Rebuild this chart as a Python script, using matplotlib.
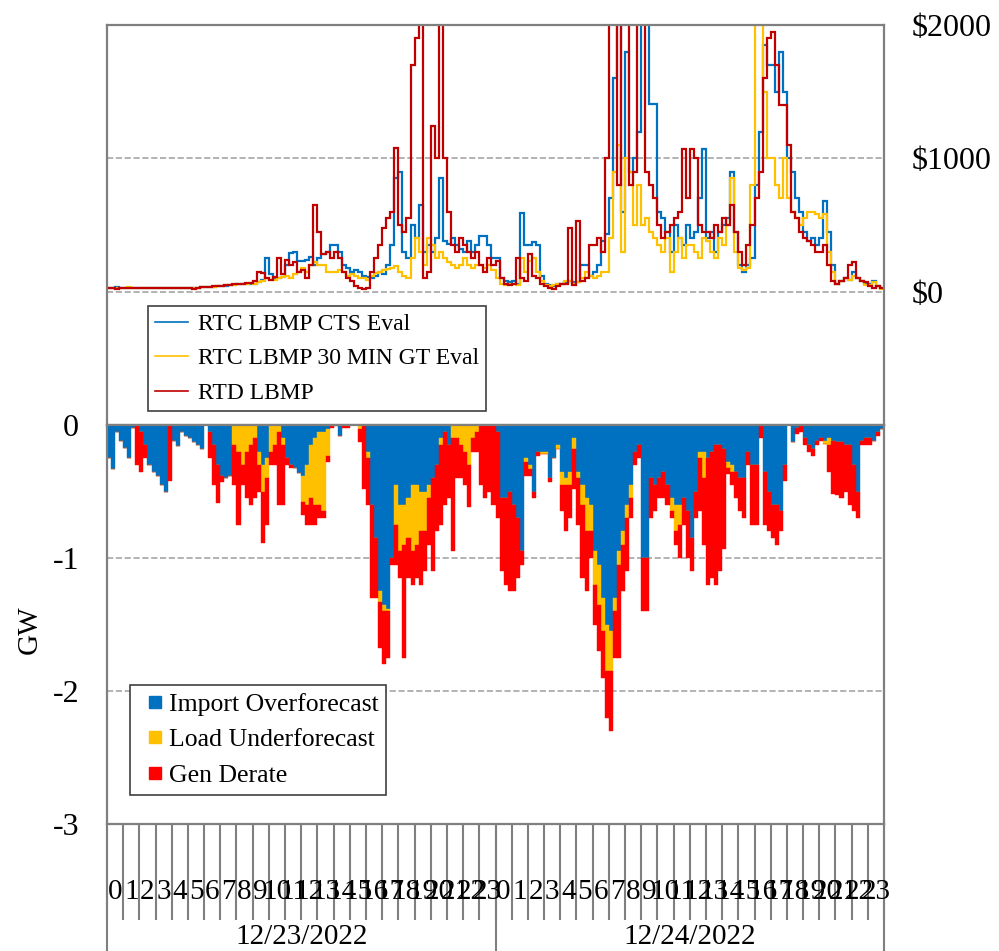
import matplotlib.pyplot as plt
from matplotlib.lines import Line2D
import numpy as np

plt.rcParams['font.family'] = ['Liberation Serif', 'DejaVu Serif']
plt.rcParams['axes.unicode_minus'] = False

dates = ['12/23/2022', '12/24/2022']
hour_labels = [str(h) for h in range(24)]

# 15-minute values, 4 per hour, 12/23 00:00 -> 12/24 23:45  ($/MWh)
rtc_cts = [
    30, 28, 32, 30, 30, 30, 28, 30, 28, 30, 30, 30, 30, 30, 30, 30,
    30, 30, 30, 30, 30, 25, 30, 32, 35, 35, 38, 40, 45, 45, 50, 50,
    55, 58, 60, 60, 60, 70, 90, 250, 130, 100, 100, 110, 200, 290, 300, 230,
    230, 240, 260, 200, 250, 280, 300, 350, 350, 300, 200, 180, 150, 160, 150, 120,
    110, 100, 120, 150, 130, 200, 350, 850, 900, 300, 250, 500, 400, 650, 300, 350,
    300, 400, 850, 380, 360, 400, 350, 320, 300, 380, 300, 350, 420, 420, 350, 250,
    250, 100, 80, 70, 80, 60, 590, 350, 350, 370, 350, 120, 60, 50, 40, 60,
    60, 70, 80, 70, 70, 200, 200, 120, 150, 200, 380, 430, 700, 1600, 2600, 600,
    1800, 900, 1000, 1200, 2600, 2600, 1410, 1410, 600, 550, 450, 300, 500, 400, 350, 500,
    400, 450, 700, 1070, 400, 450, 300, 450, 500, 550, 900, 450, 200, 150, 200, 250,
    800, 1200, 1850, 1700, 1700, 1500, 1800, 1500, 1000, 900, 700, 600, 450, 380, 400, 350,
    400, 680, 450, 200, 60, 80, 100, 90, 150, 100, 80, 60, 60, 80, 40, 30,
]
rtc_gt = [
    28, 30, 30, 28, 30, 32, 30, 30, 30, 30, 28, 30, 30, 30, 30, 30,
    30, 30, 30, 30, 30, 28, 30, 32, 35, 36, 38, 40, 45, 48, 50, 52,
    55, 58, 60, 62, 60, 70, 80, 100, 90, 90, 100, 110, 120, 100, 130, 150,
    180, 150, 200, 220, 200, 200, 150, 150, 150, 160, 150, 120, 130, 120, 100, 100,
    90, 120, 140, 150, 160, 170, 180, 190, 150, 120, 100, 250, 400, 300, 200, 400,
    350, 250, 300, 250, 220, 200, 180, 200, 250, 200, 180, 200, 200, 180, 200, 160,
    100, 60, 50, 60, 60, 50, 250, 150, 230, 250, 150, 80, 50, 40, 50, 60,
    60, 80, 80, 60, 70, 100, 150, 120, 100, 120, 150, 150, 400, 900, 1100, 300,
    1000, 900, 500, 800, 500, 550, 450, 400, 350, 300, 400, 150, 300, 400, 250, 350,
    350, 300, 250, 400, 380, 300, 250, 400, 350, 500, 850, 300, 180, 160, 180, 800,
    2600, 2600, 1500, 1000, 1000, 800, 700, 1000, 700, 600, 550, 500, 550, 600, 600, 580,
    550, 580, 300, 150, 60, 80, 100, 90, 120, 100, 80, 50, 50, 70, 40, 20,
]
rtd = [
    25, 30, 22, 28, 30, 25, 30, 28, 28, 30, 30, 28, 30, 30, 30, 30,
    30, 30, 30, 30, 30, 20, 28, 32, 35, 38, 40, 42, 45, 48, 52, 55,
    58, 60, 62, 65, 80, 150, 140, 100, 90, 110, 250, 130, 240, 200, 220, 150,
    160, 100, 200, 650, 450, 280, 300, 250, 300, 250, 150, 100, 80, 40, 30, 20,
    30, 150, 250, 350, 480, 550, 600, 1080, 500, 450, 550, 1700, 1900, 2600, 100, 150,
    1240, 1000, 2600, 1000, 600, 350, 300, 400, 350, 300, 250, 300, 200, 150, 250, 200,
    230, 100, 60, 50, 60, 250, 100, 80, 280, 120, 100, 60, 40, 30, 20, 40,
    60, 60, 480, 50, 530, 80, 100, 350, 350, 400, 300, 1000, 2600, 2600, 800, 2600,
    2600, 800, 900, 2600, 2600, 900, 800, 700, 500, 400, 450, 500, 550, 600, 1070, 700,
    1070, 1000, 500, 450, 450, 400, 500, 450, 550, 500, 650, 450, 300, 200, 350, 500,
    700, 900, 1600, 1900, 1950, 1700, 1400, 1400, 1100, 600, 550, 450, 400, 380, 350, 300,
    300, 350, 200, 80, 60, 80, 100, 200, 220, 100, 80, 70, 40, 30, 40, 30,
]

# 15-minute shortfall components (GW)
imp_over = [
    -0.25, -0.33, -0.05, -0.12, -0.17, -0.25, -0.02, 0, -0.05, -0.15, -0.3, -0.35, -0.38, -0.45, -0.5, 0,
    -0.12, -0.16, -0.05, -0.08, -0.1, -0.13, -0.15, -0.18, 0, -0.05, -0.15, -0.3, -0.38, -0.4, -0.38, 0,
    0, 0, 0, 0, 0, -0.2, -0.3, -0.25, 0, 0, 0, -0.1, -0.25, -0.3, -0.32, -0.36,
    -0.38, -0.3, -0.15, -0.1, -0.05, -0.05, -0.03, 0, 0, -0.08, 0, 0, 0, 0, 0, 0,
    -0.2, -0.6, -0.85, -1.25, -1.35, -1.38, -1.0, -0.45, -0.6, -0.6, -0.55, -0.45, -0.45, -0.5, -0.5, -0.45,
    -0.4, -0.3, -0.1, -0.05, -0.15, 0, 0, 0, 0, 0, 0, 0, 0, 0, 0, 0,
    -0.05, -0.55, -0.55, -0.5, -0.6, -0.7, -0.95, -0.25, -0.3, -0.5, -0.2, -0.2, -0.2, -0.4, -0.25, -0.15,
    -0.35, -0.4, -0.35, -0.1, -0.35, -0.45, -0.55, -0.6, -0.95, -1.05, -1.3, -1.5, -1.55, -1.3, -0.95, -0.8,
    -0.6, -0.45, -0.2, -0.15, -1.0, -1.0, -0.4, -0.45, -0.4, -0.35, -0.45, -0.55, -0.6, -0.6, -0.55, -0.65,
    -0.85, -0.5, -0.2, -0.2, -0.25, -0.2, -0.15, -0.15, -0.18, -0.28, -0.3, -0.35, -0.4, -0.4, -0.2, -0.3,
    -0.3, 0, -0.35, -0.5, -0.6, -0.6, -0.65, -0.3, 0, -0.13, -0.02, 0, -0.1, -0.15, -0.18, -0.12,
    -0.1, -0.12, -0.1, -0.12, -0.13, -0.13, -0.15, -0.15, -0.3, -0.5, -0.12, -0.1, -0.1, -0.12, -0.05, -0.03,
]
load_under = [
    0, 0, 0, 0, 0, 0, 0, 0, 0, 0, 0, 0, 0, 0, 0, 0,
    0, 0, 0, 0, 0, 0, 0, 0, 0, 0, 0, 0, 0, 0, 0, -0.15,
    -0.2, -0.3, -0.2, -0.15, -0.1, -0.1, -0.2, -0.15, -0.2, -0.15, -0.05, -0.05, 0, 0, 0, 0,
    -0.2, -0.3, -0.4, -0.5, -0.55, -0.6, -0.2, 0, 0, 0, 0, 0, 0, 0, -0.03, 0,
    -0.05, 0, 0, -0.08, -0.05, -0.02, 0, -0.3, -0.35, -0.3, -0.3, -0.5, -0.45, -0.3, -0.3, -0.1,
    0, 0, -0.05, 0, 0, -0.1, -0.1, -0.15, -0.2, -0.3, -0.1, -0.05, 0, 0, 0, 0,
    0, 0, 0, 0, 0, 0, 0, -0.03, -0.03, 0, 0, -0.02, -0.02, 0, 0, -0.03,
    -0.1, -0.05, -0.1, -0.08, -0.05, -0.15, -0.25, -0.2, -0.25, -0.3, -0.25, -0.35, -0.3, -0.1, -0.1, -0.1,
    -0.1, -0.1, 0, 0, 0, 0, 0, 0, 0, 0, 0, -0.1, -0.2, -0.15, 0, 0,
    0, 0, -0.05, -0.2, 0, 0, 0, 0, 0, -0.04, -0.05, 0, 0, 0, 0, 0,
    0, 0, 0, 0, 0, 0, 0, 0, 0, 0, 0, 0, 0, 0, 0, 0,
    0, -0.02, -0.05, 0, 0, 0, 0, 0, 0, 0, 0, 0, 0, 0, 0, 0,
]
gen_derate = [
    0, 0, 0, 0, 0, 0, 0, -0.3, -0.3, -0.1, 0, 0, 0, 0, 0, -0.42,
    0, 0, 0, 0, 0, 0, 0, 0, 0, -0.2, -0.3, -0.29, -0.05, 0, 0, -0.3,
    -0.55, -0.15, -0.35, -0.45, -0.45, -0.2, -0.39, -0.35, -0.1, -0.15, -0.55, -0.45, -0.05, -0.02, 0, 0,
    -0.1, -0.15, -0.2, -0.15, -0.1, -0.05, -0.05, -0.02, -0.01, 0, -0.02, -0.02, 0, 0, -0.1, -0.48,
    -0.35, -0.7, -0.45, -0.35, -0.4, -0.35, -0.05, -0.3, -0.2, -0.85, -0.3, -0.25, -0.25, -0.4, -0.3, -0.35,
    -0.7, -0.5, -0.6, -0.55, -0.4, -0.85, -0.3, -0.25, -0.25, -0.32, -0.1, -0.15, -0.45, -0.55, -0.5, -0.6,
    -0.65, -0.55, -0.65, -0.75, -0.65, -0.45, -0.1, -0.1, -0.05, -0.05, -0.03, 0, 0, -0.03, 0, 0,
    -0.2, -0.35, -0.25, -0.3, -0.35, -0.55, -0.45, -0.2, -0.3, -0.35, -0.35, -0.35, -0.45, -0.35, -0.7, -0.35,
    -0.4, -0.15, -0.1, -0.1, -0.4, -0.4, -0.3, -0.2, -0.15, -0.2, -0.15, -0.05, -0.1, -0.25, -0.2, -0.35,
    -0.25, -0.2, -0.4, -0.5, -0.95, -0.95, -1.05, -0.95, -0.75, -0.05, -0.1, -0.2, -0.25, -0.3, -0.1, -0.45,
    -0.45, -0.1, -0.4, -0.3, -0.25, -0.3, -0.15, -0.12, 0, 0, -0.05, -0.05, -0.05, -0.05, -0.05, -0.03,
    -0.02, 0, -0.2, -0.4, -0.4, -0.42, -0.35, -0.45, -0.35, -0.2, -0.03, -0.05, -0.05, 0, -0.03, 0,
]

blue, yellow, red, bright_red = '#0070C0', '#FFC000', '#C00000', '#FF0000'
frame = '#7F7F7F'
grid = '#A6A6A6'

n = len(rtd)
edges = np.arange(n + 1) * 0.25
centers = edges[:-1] + 0.125
imp = np.array(imp_over)
load = np.array(load_under)
gen = np.array(gen_derate)

fig = plt.figure(figsize=(9.99, 9.51), dpi=100)
ax1 = fig.add_axes([0.1071, 0.5531, 0.7778, 0.4206])
ax2 = fig.add_axes([0.1071, 0.1335, 0.7778, 0.4196])

# price panel
ax1.stairs(rtc_cts, edges, color=blue, lw=1.6, label='RTC LBMP CTS Eval', baseline=None)
ax1.stairs(rtc_gt, edges, color=yellow, lw=1.6, label='RTC LBMP 30 MIN GT Eval', baseline=None)
ax1.stairs(rtd, edges, color=red, lw=1.6, label='RTD LBMP', baseline=None)
ax1.set_xlim(0, 48)
ax1.set_ylim(-1000, 2000)
ax1.set_xticks([])
ax1.yaxis.tick_right()
ax1.set_yticks([0, 1000, 2000])
ax1.set_yticklabels(['$0', '$1000', '$2000'])
ax1.tick_params(axis='y', length=0, pad=20, labelsize=23)
ax1.grid(axis='y', color=grid, ls='--', lw=1.2)
ax1.set_axisbelow(True)

leg1 = ax1.legend(loc='lower left', bbox_to_anchor=(0.053, 0.035), borderaxespad=0,
                  fontsize=17, fancybox=False, edgecolor='#404040', framealpha=1,
                  handlelength=1.4, handletextpad=0.4, borderpad=0.3, labelspacing=0.55)
leg1.get_frame().set_linewidth(1.2)
for ln in leg1.get_lines():
    ln.set_linewidth(1.2)

# shortfall panel
ax2.bar(centers, imp, width=0.25, color=blue, edgecolor=blue, lw=0.3)
ax2.bar(centers, load, width=0.25, bottom=imp, color=yellow, edgecolor=yellow, lw=0.3)
ax2.bar(centers, gen, width=0.25, bottom=imp + load, color=bright_red, edgecolor=bright_red, lw=0.3)
ax2.set_xlim(0, 48)
ax2.set_ylim(-3, 0)
ax2.set_yticks([-3, -2, -1, 0])
ax2.set_yticklabels(['-3', '-2', '-1', '0'])
ax2.tick_params(axis='y', length=0, pad=20, labelsize=23)
ax2.grid(axis='y', color=grid, ls='--', lw=1.2)
ax2.set_axisbelow(True)
ax2.set_ylabel('GW', fontsize=21)
ax2.yaxis.set_label_coords(-0.083, 0.486)

ax2.set_xticks(np.arange(0, 49))
ax2.set_xticklabels([])
ax2.tick_params(axis='x', length=69, width=1.5, color=frame, direction='out')

tr = ax2.get_xaxis_transform()
for d, date in enumerate(dates):
    for h, lab in enumerate(hour_labels):
        ax2.text(d * 24 + h + 0.5, -0.17, lab, transform=tr, ha='center', va='center', fontsize=21)
    ax2.text(d * 24 + 12, -0.283, date, transform=tr, ha='center', va='center', fontsize=21)
for xs in [0, 24, 48]:
    ax2.plot([xs, xs], [0, -0.32], transform=tr, color=frame, lw=1.5, clip_on=False)

sq = [Line2D([], [], ls='none', marker='s', markersize=8, color=c) for c in (blue, yellow, bright_red)]
leg2 = ax2.legend(sq, ['Import Overforecast', 'Load Underforecast', 'Gen Derate'],
                  loc='lower left', bbox_to_anchor=(0.0296, 0.0727), borderaxespad=0,
                  fontsize=18.5, fancybox=False, edgecolor='#404040', framealpha=1,
                  handlelength=1.35, handletextpad=-0.15, borderpad=0.3, labelspacing=0.5)
leg2.get_frame().set_linewidth(1.2)

for ax in (ax1, ax2):
    for sp in ax.spines.values():
        sp.set_color(frame)
        sp.set_linewidth(1.6)

fig.savefig('out.png', dpi=100)
